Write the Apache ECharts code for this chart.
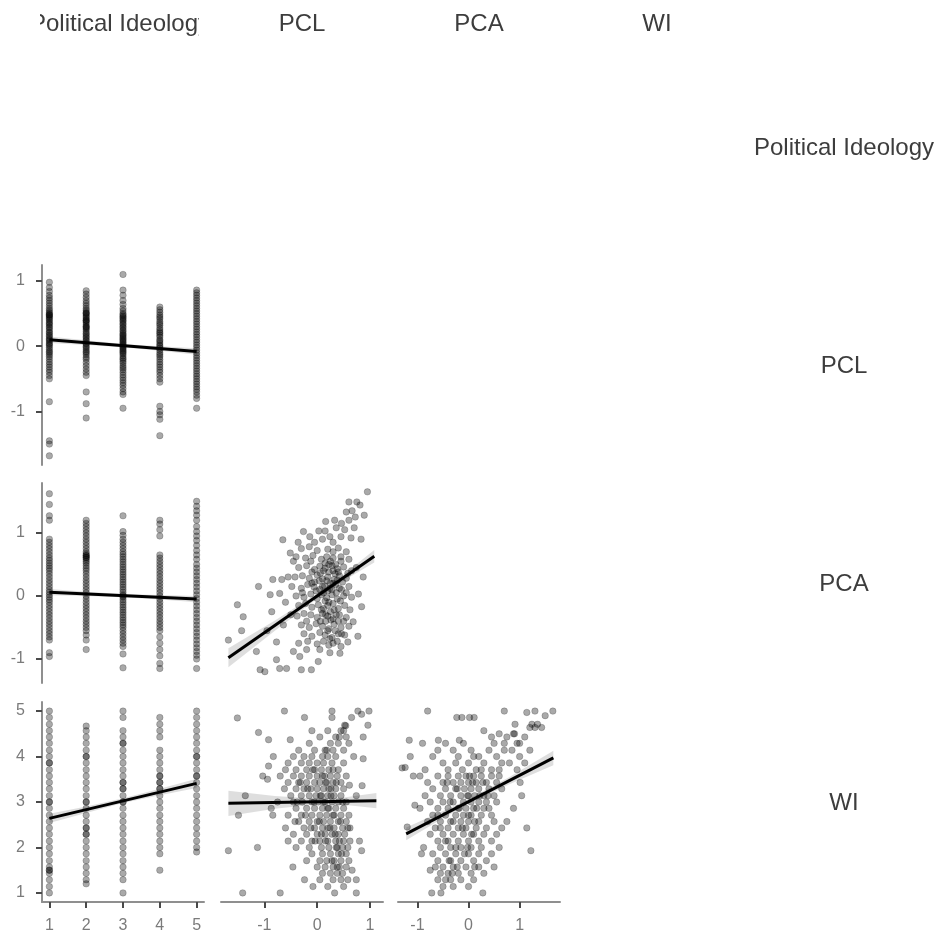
<!DOCTYPE html>
<html>
<head>
<meta charset="utf-8">
<script src="https://cdn.jsdelivr.net/npm/echarts@6/dist/echarts.min.js"></script>
<style>
html,body{margin:0;padding:0;background:#fff;}
#chart{width:941px;height:943px;}
</style>
</head>
<body>
<div id="chart"></div>
<script>
// ---------- labels ----------
const variableNames = ['Political Ideology', 'PCL', 'PCA', 'WI'];
const ideologyLevels = [1, 2, 3, 4, 5];
const ideologyTicks = [1, 2, 3, 4, 5];
const pclTicks = [-1, 0, 1];
const pcaTicks = [-1, 0, 1];
const wiTicks = [1, 2, 3, 4, 5];

// axis ranges (data units)
const ideologyRange = [0.8, 5.2];
const pclRange = [-1.82, 1.245];
const pcaRange = [-1.38, 1.79];
const wiRange = [0.8, 5.2];

// ---------- PCL by political ideology level (1..5) ----------
const pclByIdeology = [
  [0.98,0.9,0.84,0.78,0.74,0.7,0.66,0.62,0.58,0.55,0.52,0.5,0.48,0.48,0.46,0.44,0.42,0.4,0.37,0.35,0.33,0.3,0.28,0.25,0.22,0.2,0.17,0.15,0.12,0.1,0.08,0.05,0.03,0.01,-0.02,-0.05,-0.08,-0.1,-0.13,-0.16,-0.2,-0.24,-0.28,-0.32,-0.36,-0.4,-0.45,-0.5,-0.85,-1.45,-1.5,-1.68],
  [0.85,0.8,0.75,0.7,0.66,0.62,0.58,0.55,0.52,0.5,0.5,0.47,0.45,0.43,0.4,0.4,0.38,0.36,0.33,0.3,0.3,0.28,0.26,0.23,0.2,0.18,0.15,0.13,0.1,0.08,0.05,0.03,0,-0.02,-0.05,-0.08,-0.1,-0.13,-0.17,-0.2,-0.25,-0.3,-0.35,-0.4,-0.45,-0.7,-0.88,-1.1],
  [1.1,0.86,0.78,0.7,0.64,0.58,0.54,0.5,0.48,0.46,0.44,0.42,0.4,0.38,0.35,0.33,0.3,0.28,0.25,0.23,0.2,0.18,0.16,0.14,0.12,0.1,0.08,0.06,0.04,0.02,0,-0.02,-0.04,-0.06,-0.08,-0.1,-0.12,-0.15,-0.18,-0.2,-0.23,-0.26,-0.3,-0.33,-0.36,-0.4,-0.44,-0.48,-0.52,-0.56,-0.6,-0.65,-0.7,-0.74,-0.95],
  [0.6,0.56,0.52,0.48,0.45,0.42,0.38,0.35,0.32,0.28,0.25,0.22,0.2,0.17,0.14,0.1,0.08,0.05,0.02,0,-0.03,-0.06,-0.1,-0.13,-0.16,-0.2,-0.24,-0.28,-0.32,-0.36,-0.4,-0.45,-0.5,-0.55,-0.92,-1.0,-1.05,-1.12,-1.37],
  [0.86,0.82,0.78,0.74,0.7,0.66,0.62,0.58,0.54,0.5,0.46,0.42,0.38,0.34,0.3,0.26,0.22,0.18,0.14,0.1,0.06,0.02,-0.02,-0.06,-0.1,-0.14,-0.18,-0.22,-0.26,-0.3,-0.34,-0.38,-0.42,-0.46,-0.5,-0.54,-0.58,-0.62,-0.66,-0.7,-0.75,-0.8,-0.95]
];

// ---------- PCA by political ideology level ----------
const pcaByIdeology = [
  [1.62,1.45,1.27,1.2,0.9,0.85,0.8,0.75,0.7,0.65,0.6,0.56,0.52,0.48,0.44,0.4,0.35,0.3,0.25,0.2,0.15,0.1,0.06,0.02,-0.02,-0.06,-0.1,-0.15,-0.2,-0.25,-0.3,-0.35,-0.4,-0.45,-0.5,-0.55,-0.6,-0.65,-0.7,-0.9,-0.96],
  [1.2,1.15,1.1,1.05,1.0,0.95,0.9,0.85,0.8,0.75,0.7,0.67,0.64,0.64,0.61,0.61,0.58,0.55,0.52,0.48,0.44,0.4,0.35,0.3,0.25,0.2,0.15,0.1,0.05,0,-0.05,-0.1,-0.15,-0.2,-0.25,-0.3,-0.35,-0.4,-0.45,-0.5,-0.55,-0.62,-0.7,-0.85],
  [1.27,1.02,0.96,0.9,0.85,0.8,0.75,0.7,0.66,0.62,0.58,0.54,0.5,0.46,0.42,0.38,0.34,0.3,0.26,0.22,0.18,0.14,0.1,0.06,0.02,0,-0.02,-0.06,-0.1,-0.14,-0.18,-0.22,-0.26,-0.3,-0.34,-0.38,-0.42,-0.46,-0.5,-0.55,-0.6,-0.65,-0.7,-0.75,-0.8,-0.92,-1.14],
  [1.2,1.14,1.05,0.95,0.65,0.6,0.55,0.5,0.45,0.4,0.35,0.3,0.25,0.2,0.15,0.1,0.05,0,-0.05,-0.1,-0.15,-0.2,-0.25,-0.3,-0.35,-0.4,-0.45,-0.5,-0.55,-0.65,-0.75,-0.85,-0.95,-1.07,-1.15],
  [1.5,1.42,1.35,1.28,1.2,1.1,1.02,0.95,0.88,0.8,0.72,0.65,0.58,0.5,0.44,0.38,0.32,0.26,0.2,0.14,0.08,0.02,-0.04,-0.1,-0.16,-0.22,-0.28,-0.34,-0.4,-0.46,-0.52,-0.58,-0.64,-0.7,-0.76,-0.82,-0.88,-0.94,-1.0,-1.15]
];

// ---------- WI by political ideology level ----------
const wiByIdeology = [
  [5,4.86,4.71,4.57,4.43,4.29,4.14,4.0,3.86,3.86,3.71,3.57,3.43,3.29,3.14,3.0,3.0,2.86,2.71,2.57,2.43,2.29,2.14,2.0,1.86,1.71,1.57,1.5,1.5,1.43,1.29,1.14,1.0],
  [4.67,4.57,4.43,4.29,4.14,4.0,4.0,3.86,3.71,3.57,3.43,3.29,3.14,3.0,3.0,2.86,2.71,2.57,2.43,2.43,2.29,2.29,2.14,2.0,1.86,1.71,1.57,1.43,1.29,1.2],
  [5.0,4.86,4.57,4.43,4.29,4.29,4.14,4.0,3.86,3.71,3.57,3.43,3.43,3.29,3.29,3.14,3.0,3.0,2.86,2.71,2.57,2.43,2.29,2.14,2.0,1.86,1.71,1.57,1.43,1.29,1.0],
  [4.86,4.71,4.57,4.43,4.14,4.0,3.86,3.71,3.57,3.57,3.43,3.43,3.29,3.29,3.14,3.0,2.86,2.71,2.57,2.43,2.29,2.14,2.0,1.86,1.5],
  [5.0,4.86,4.71,4.57,4.43,4.29,4.14,4.0,4.0,3.86,3.71,3.57,3.57,3.43,3.29,3.14,3.0,2.86,2.71,2.57,2.43,2.29,2.14,2.0,1.9]
];

// ---------- PCA (y) vs PCL (x) ----------
const pcaVsPcl = [
  [0.95,1.65],[0.6,1.49],[0.75,1.49],[0.81,1.44],[0.66,1.35],[0.55,1.33],[0.89,1.28],[0.72,1.25],[0.6,1.2],[0.46,1.15],[0.33,1.2],[0.16,1.18],[0.36,1.08],[0.52,1.05],[0.7,1.08],[0.83,0.9],[0.64,0.92],[0.45,0.94],
  [0.03,1.03],[0.15,1.03],[-0.26,1.02],[-0.14,0.94],[-0.36,0.85],[-0.05,0.85],[0.24,0.94],[-0.65,0.89],[0.1,0.9],[0.3,0.85],
  [-0.51,0.68],[-0.84,0.26],[-0.67,0.26],[-1.11,0.15],[-0.89,0.02],[-0.71,0.04],[-1.51,-0.14],[-1.4,-0.33],[-1.43,-0.55],[-1.68,-0.7],[-1.15,-0.88],[-0.77,-0.73],[-0.64,-0.46],[-0.86,-0.25],[-0.55,0.3],[-0.45,0.55],[-0.6,-0.1],[-0.5,-0.3],[-0.95,-0.55],
  [-1.08,-1.17],[-0.99,-1.2],[-0.71,-1.15],[-0.58,-1.15],[-0.3,-1.17],[-0.11,-1.17],[0.02,-1.04],[-0.33,-0.96],[-0.45,-0.88],[-0.77,-1.01],[-0.2,-0.85],[0.05,-0.85],[0.24,-0.9],[0.43,-0.91],[0.3,-0.75],[0.58,-0.73],[0.77,-0.64],[0.68,-0.41],[0.84,-0.17],[0.78,0.03],[0.87,0.3],[0.74,0.45],
  [-0.3,0.75],[-0.15,0.78],[0.0,0.72],[0.2,0.74],[0.4,0.76],[0.55,0.7],
  [-0.4,0.62],[-0.22,0.6],[-0.08,0.64],[0.08,0.58],[0.18,0.62],[0.3,0.6],[0.45,0.62],[0.6,0.58],[-0.12,0.55],
  [-0.35,0.45],[-0.2,0.48],[-0.05,0.42],[0.05,0.47],[0.15,0.44],[0.28,0.48],[0.38,0.43],[0.5,0.46],[0.65,0.4],[-0.1,0.38],[0.22,0.38],
  [-0.42,0.3],[-0.28,0.32],[-0.15,0.28],[0.0,0.33],[0.1,0.27],[0.2,0.3],[0.32,0.26],[0.42,0.32],[0.55,0.28],[-0.05,0.22],[0.25,0.2],
  [-0.48,0.15],[-0.3,0.12],[-0.18,0.18],[-0.06,0.14],[0.05,0.1],[0.14,0.16],[0.24,0.12],[0.35,0.18],[0.46,0.1],[0.6,0.15],[0.12,0.05],
  [-0.4,0.0],[-0.25,-0.02],[-0.12,0.03],[0.0,-0.04],[0.08,0.02],[0.18,-0.03],[0.28,0.02],[0.38,-0.05],[0.5,0.0],[0.65,-0.02],[0.22,-0.1],
  [-0.35,-0.15],[-0.22,-0.12],[-0.1,-0.18],[0.02,-0.14],[0.12,-0.2],[0.2,-0.15],[0.3,-0.12],[0.4,-0.2],[0.52,-0.15],[0.62,-0.22],
  [-0.38,-0.32],[-0.25,-0.28],[-0.12,-0.3],[0.0,-0.34],[0.1,-0.28],[0.2,-0.32],[0.3,-0.36],[0.42,-0.3],[0.55,-0.34],[0.16,-0.4],
  [-0.3,-0.46],[-0.15,-0.5],[-0.02,-0.44],[0.1,-0.48],[0.22,-0.52],[0.32,-0.45],[0.45,-0.5],[0.6,-0.48],
  [-0.25,-0.6],[-0.1,-0.64],[0.05,-0.58],[0.15,-0.62],[0.28,-0.66],[0.4,-0.6],[0.52,-0.62],
  [-0.35,-0.75],[-0.18,-0.72],[0.0,-0.76],[0.12,-0.72],[0.22,-0.78],[0.45,-0.8],
  [0.15,0.52],[0.25,0.55],[0.35,0.5],[0.3,0.4],[0.4,0.38],[0.18,0.24],[0.28,0.1],[0.36,0.05],[0.44,-0.08],[0.32,-0.22],[0.25,-0.25],[0.4,-0.4],[0.08,-0.22],[0.34,0.35],[0.06,0.36],[-0.02,0.08],[0.48,0.22],[0.15,-0.08],
  [0.12,0.4],[0.22,0.5],[0.3,0.2],[0.38,0.25],[0.1,0.15],[0.2,0.08],[0.42,0.12],[0.16,-0.3],[0.26,-0.38],[0.36,-0.3],[0.06,-0.4],[0.2,-0.55],[0.34,-0.55],[0.46,-0.6],[0.5,-0.4],[0.55,0.05],[0.04,0.24],[-0.1,0.2],[0.3,0.7],[0.45,0.55],[0.58,0.36],[0.24,-0.68],[0.38,-0.72],[-0.2,-0.4],[-0.28,0.05]
];

// ---------- WI (y) vs PCL (x) ----------
const wiVsPcl = [
  [-1.51,4.85],[-0.62,5.0],[-0.24,4.86],[-1.11,4.53],[-0.92,4.37],[-0.51,4.37],[0.28,5.0],[0.28,4.86],[0.77,5.0],[0.98,5.0],[0.84,4.93],[0.65,4.86],[0.52,4.69],[0.54,4.68],[0.96,4.69],[0.87,4.43],[0.69,4.0],[0.87,3.95],[0.61,3.37],[0.85,3.36],[-0.83,4.0],[-0.92,3.79],[-1.03,3.57],[-0.94,3.5],[-1.36,3.14],[-1.49,2.71],[-0.87,2.86],[-0.84,2.71],[-1.68,1.93],[-1.13,2.0],[-1.41,1.0],[-0.7,1.0],[0.33,1.0],[0.74,1.0],[-0.08,1.14],[-0.24,1.29],[-0.46,1.57],[0.8,2.14],[0.84,1.93],[0.74,3.14],[0.74,1.29],[0.66,1.5],
  [-0.1,4.57],[0.05,4.43],[0.2,4.57],[0.35,4.43],[0.45,4.57],[0.55,4.43],[0.6,4.29],[0.4,4.29],[0.25,4.29],[-0.15,4.29],[-0.05,4.14],[0.15,4.14],[0.3,4.14],[0.5,4.14],[-0.35,4.14],[-0.45,4.0],[-0.25,4.0],[-0.1,4.0],[0.1,4.0],[0.2,4.0],[0.35,4.0],[0.5,3.86],[-0.55,3.86],[-0.3,3.86],[-0.15,3.86],[0.0,3.86],[0.12,3.86],[0.28,3.86],[0.4,3.71],[-0.6,3.71],[-0.4,3.71],[-0.2,3.71],[-0.05,3.71],[0.08,3.71],[0.22,3.71],[0.55,3.57],
  [-0.7,3.57],[-0.45,3.57],[-0.3,3.57],[-0.15,3.57],[0.0,3.57],[0.1,3.57],[0.25,3.57],[0.38,3.57],
  [-0.55,3.43],[-0.35,3.43],[-0.2,3.43],[-0.05,3.43],[0.05,3.43],[0.18,3.43],[0.3,3.43],[0.45,3.43],
  [-0.62,3.29],[-0.4,3.29],[-0.25,3.29],[-0.12,3.29],[0.0,3.29],[0.12,3.29],[0.22,3.29],[0.35,3.29],[0.5,3.29],
  [-0.5,3.14],[-0.3,3.14],[-0.15,3.14],[-0.02,3.14],[0.08,3.14],[0.2,3.14],[0.32,3.14],[0.45,3.14],
  [-0.75,3.0],[-0.45,3.0],[-0.28,3.0],[-0.1,3.0],[0.02,3.0],[0.15,3.0],[0.28,3.0],[0.4,3.0],[0.55,3.0],
  [-0.4,2.86],[-0.2,2.86],[-0.05,2.86],[0.1,2.86],[0.22,2.86],[0.35,2.86],[0.5,2.86],
  [-0.55,2.71],[-0.3,2.71],[-0.1,2.71],[0.05,2.71],[0.18,2.71],[0.3,2.71],[0.45,2.71],[0.6,2.71],
  [-0.35,2.57],[-0.15,2.57],[0.0,2.57],[0.12,2.57],[0.25,2.57],[0.4,2.57],[0.55,2.57],
  [-0.6,2.43],[-0.25,2.43],[-0.05,2.43],[0.1,2.43],[0.2,2.43],[0.32,2.43],[0.48,2.43],[0.62,2.43],
  [-0.45,2.29],[-0.2,2.29],[0.0,2.29],[0.15,2.29],[0.28,2.29],[0.4,2.29],[0.52,2.29],
  [-0.55,2.14],[-0.3,2.14],[-0.1,2.14],[0.05,2.14],[0.2,2.14],[0.35,2.14],[0.5,2.14],[0.62,2.14],
  [-0.4,2.0],[-0.15,2.0],[0.08,2.0],[0.22,2.0],[0.38,2.0],[0.48,2.0],[0.58,2.0],
  [-0.1,1.86],[0.1,1.86],[0.25,1.86],[0.4,1.86],[0.55,1.86],
  [-0.2,1.71],[0.05,1.71],[0.18,1.71],[0.32,1.71],[0.45,1.71],[0.6,1.71],
  [0.0,1.57],[0.15,1.57],[0.3,1.57],[0.42,1.57],[0.55,1.57],
  [0.1,1.43],[0.25,1.43],[0.38,1.43],[0.48,1.43],
  [0.05,1.29],[0.3,1.29],[0.45,1.29],[0.58,1.29],
  [0.2,1.14],[0.5,1.14],
  [-0.32,3.43],[-0.18,3.29],[0.06,3.14],[0.16,3.43],[0.26,3.29],[0.12,3.0],[-0.06,3.0],[0.2,2.86],[0.32,2.71],[-0.22,2.71],[0.04,2.57],[0.24,2.43],[0.34,2.29],[0.42,2.14],[-0.12,2.43],[0.14,3.57],[-0.08,3.71],[0.3,3.71],[0.18,4.14],[0.42,4.43],[0.5,4.57],[0.36,2.0],[0.46,1.86],[0.28,1.71],[0.38,1.57],[0.16,2.14],[0.08,2.29],[-0.04,2.14],[0.26,3.14],[0.36,3.43],[-0.38,3.0],[-0.42,2.57],[0.48,3.0],[0.58,2.43],[0.44,2.57]
];

// ---------- WI (y) vs PCA (x) ----------
const wiVsPca = [
  [-0.8,5.0],[-0.23,4.86],[-0.13,4.86],[0.02,4.86],[0.11,4.86],[0.7,5.0],[1.14,4.97],[1.3,5.0],[1.65,5.0],[1.5,4.9],[1.35,4.71],[1.24,4.71],[1.43,4.64],[1.3,4.64],[1.2,4.64],[0.91,4.71],[0.88,4.5],[-1.16,4.36],[-0.59,4.36],[-0.18,4.36],[-1.14,4.0],[-1.24,3.76],[-1.08,3.57],[-1.05,2.93],[-0.88,2.0],[-0.92,1.86],[-0.75,1.5],[-0.72,1.0],[-0.54,1.0],[0.28,1.0],[1.14,2.43],[1.22,1.93],[1.01,3.43],[1.04,3.14],[0.88,2.86],[0.75,2.57],[-1.3,3.75],[-1.2,2.45],
  [0.3,4.57],[0.45,4.43],[0.6,4.5],[0.75,4.43],[0.95,4.29],[1.1,4.43],[0.5,4.29],[0.7,4.14],[0.85,4.14],[1.0,4.0],[1.2,4.14],[0.4,4.14],[0.55,4.0],[0.65,3.86],[0.8,3.86],[0.95,3.71],[1.1,3.86],[0.3,3.86],[0.45,3.71],[0.2,4.0],[0.6,3.71],
  [-0.9,4.29],[-0.6,4.14],[-0.45,4.29],[-0.3,4.14],[-0.1,4.29],[0.05,4.14],[-0.7,4.0],[-0.5,3.86],[-0.2,4.0],[0.0,3.86],[0.1,4.0],[-0.85,3.71],[-0.4,3.71],[-0.25,3.86],[0.15,3.71],
  [-0.95,3.57],[-0.6,3.57],[-0.4,3.57],[-0.2,3.57],[-0.05,3.57],[0.1,3.57],[0.25,3.57],[0.45,3.57],[0.6,3.57],
  [-0.8,3.43],[-0.5,3.43],[-0.3,3.43],[-0.15,3.43],[0.0,3.43],[0.15,3.43],[0.35,3.43],[0.55,3.43],
  [-0.7,3.29],[-0.45,3.29],[-0.25,3.29],[-0.08,3.29],[0.05,3.29],[0.2,3.29],[0.4,3.29],[0.65,3.29],
  [-0.85,3.14],[-0.55,3.14],[-0.35,3.14],[-0.15,3.14],[0.0,3.14],[0.12,3.14],[0.3,3.14],[0.5,3.14],
  [-0.75,3.0],[-0.5,3.0],[-0.3,3.0],[-0.1,3.0],[0.05,3.0],[0.2,3.0],[0.35,3.0],[0.55,3.0],
  [-0.95,2.86],[-0.6,2.86],[-0.4,2.86],[-0.2,2.86],[-0.05,2.86],[0.1,2.86],[0.3,2.86],
  [-0.7,2.71],[-0.45,2.71],[-0.25,2.71],[-0.1,2.71],[0.05,2.71],[0.25,2.71],[0.45,2.71],
  [-0.8,2.57],[-0.55,2.57],[-0.35,2.57],[-0.15,2.57],[0.0,2.57],[0.2,2.57],[0.5,2.57],
  [-0.65,2.43],[-0.4,2.43],[-0.2,2.43],[-0.05,2.43],[0.15,2.43],[0.35,2.43],[0.65,2.43],
  [-0.75,2.29],[-0.5,2.29],[-0.3,2.29],[-0.1,2.29],[0.1,2.29],[0.3,2.29],[0.55,2.29],
  [-0.6,2.14],[-0.4,2.14],[-0.2,2.14],[0.0,2.14],[0.2,2.14],[0.45,2.14],
  [-0.55,2.0],[-0.35,2.0],[-0.15,2.0],[0.05,2.0],[0.25,2.0],[0.6,2.0],
  [-0.7,1.86],[-0.45,1.86],[-0.25,1.86],[0.0,1.86],[0.2,1.86],[0.45,1.86],
  [-0.6,1.71],[-0.35,1.71],[-0.15,1.71],[0.1,1.71],[0.35,1.71],
  [-0.65,1.57],[-0.5,1.57],[-0.3,1.57],[-0.05,1.57],[0.2,1.57],[0.5,1.57],
  [-0.55,1.43],[-0.4,1.43],[-0.2,1.43],[0.05,1.43],[0.3,1.43],
  [-0.6,1.29],[-0.35,1.29],[-0.15,1.29],[0.1,1.29],
  [-0.5,1.14],[-0.3,1.14],[0.0,1.14],
  [-0.42,3.43],[-0.22,3.29],[-0.02,3.14],[0.08,3.43],[-0.36,3.0],[-0.18,2.86],[0.0,2.71],[-0.3,2.57],[-0.12,2.43],[0.06,2.29],[-0.45,2.14],[-0.25,2.0],[-0.08,1.86],[-0.38,1.71],[-0.22,1.57],[0.22,3.14],[0.16,2.86],[0.38,3.14],[0.28,3.43],[-0.55,2.43],[-0.6,2.71],[0.12,2.57],[0.4,2.86],[0.02,3.57],[-0.12,3.71],[0.25,3.71],[0.7,4.29],[0.9,4.5],[1.0,4.29],[-0.02,2.0],[0.12,1.57],[-0.32,1.43],[-0.45,1.29]
];

// ---------- fitted lines (endpoints) ----------
const fitPclOnIdeology = [[1, 0.10], [5, -0.08]];
const fitPcaOnIdeology = [[1, 0.06], [5, -0.05]];
const fitWiOnIdeology  = [[1, 2.64], [5, 3.41]];
const fitPcaOnPcl      = [[-1.68, -0.98], [1.08, 0.63]];
const fitWiOnPcl       = [[-1.68, 2.97], [1.12, 3.03]];
const fitWiOnPca       = [[-1.22, 2.30], [1.66, 3.97]];

// ---------- confidence bands: [x, lower, upper] ----------
const bandPclOnIdeology = [[1,0.05,0.15],[2,0.02,0.09],[3,-0.015,0.035],[4,-0.07,0.0],[5,-0.13,-0.03]];
const bandPcaOnIdeology = [[1,0.01,0.11],[2,-0.003,0.068],[3,-0.02,0.03],[4,-0.058,0.013],[5,-0.1,0.0]];
const bandWiOnIdeology  = [[1,2.54,2.74],[2,2.76,2.90],[3,2.98,3.08],[4,3.15,3.29],[5,3.31,3.51]];
const bandPcaOnPcl      = [[-1.68,-1.13,-0.83],[-0.8,-0.55,-0.39],[0,-0.04,0.04],[0.5,0.24,0.34],[1.08,0.53,0.73]];
const bandWiOnPcl       = [[-1.68,2.69,3.25],[-0.8,2.85,3.13],[0,2.95,3.07],[0.5,2.94,3.10],[1.12,2.86,3.20]];
const bandWiOnPca       = [[-1.22,2.16,2.44],[-0.5,2.64,2.80],[0,2.96,3.06],[0.8,3.39,3.55],[1.66,3.81,4.13]];

// ---------- layout ----------
const colLeft = [42, 221, 398, 576];
const rowTop = [47, 265, 483, 702];
const panelW = 162, panelH = 200;
const FONT = 'Liberation Sans, Arial, sans-serif';

const pairsFromLevels = (levels, groups) =>
  groups.flatMap((vals, i) => vals.map(v => [levels[i], v]));

// panel definitions: [row, col, xRange, xTicks, yRange, yTicks, showX, showY, points, fit, band]
const panels = [
  [1, 0, ideologyRange, ideologyTicks, pclRange, pclTicks, false, true, pairsFromLevels(ideologyLevels, pclByIdeology), fitPclOnIdeology, bandPclOnIdeology],
  [2, 0, ideologyRange, ideologyTicks, pcaRange, pcaTicks, false, true, pairsFromLevels(ideologyLevels, pcaByIdeology), fitPcaOnIdeology, bandPcaOnIdeology],
  [3, 0, ideologyRange, ideologyTicks, wiRange, wiTicks, true, true, pairsFromLevels(ideologyLevels, wiByIdeology), fitWiOnIdeology, bandWiOnIdeology],
  [2, 1, pclRange, pclTicks, pcaRange, pcaTicks, false, false, pcaVsPcl, fitPcaOnPcl, bandPcaOnPcl],
  [3, 1, pclRange, pclTicks, wiRange, wiTicks, true, false, wiVsPcl, fitWiOnPcl, bandWiOnPcl],
  [3, 2, pcaRange, pcaTicks, wiRange, wiTicks, true, false, wiVsPca, fitWiOnPca, bandWiOnPca]
];

const grids = [], xAxes = [], yAxes = [], series = [];

function axisDef(gridIndex, range, ticks, show, isX) {
  return {
    type: 'value', gridIndex, min: range[0], max: range[1],
    axisLine: { show, onZero: false, lineStyle: { color: '#8f8f8f', width: 2 } },
    axisTick: { show, length: 6, customValues: ticks, lineStyle: { color: '#4a4a4a', width: 2 } },
    axisLabel: { show, customValues: ticks, color: '#7b7b7b', fontSize: 16, fontFamily: FONT, margin: isX ? 16 : 17 },
    splitLine: { show: false }
  };
}

panels.forEach((p, gi) => {
  const [row, col, xr, xt, yr, yt, showX, showY, pts, fit, band] = p;
  grids.push({ left: colLeft[col], top: rowTop[row], width: panelW, height: panelH, containLabel: false });
  xAxes.push(axisDef(gi, xr, xt, showX, true));
  yAxes.push(axisDef(gi, yr, yt, showY, false));
  series.push({
    type: 'scatter', xAxisIndex: gi, yAxisIndex: gi, data: pts,
    symbol: 'circle', symbolSize: 6.5, silent: true, z: 2,
    itemStyle: { color: 'rgba(0,0,0,0.42)', borderColor: 'rgba(0,0,0,0.3)', borderWidth: 0.8 }
  });
  series.push({
    type: 'custom', xAxisIndex: gi, yAxisIndex: gi, data: [band[0]], silent: true, z: 3,
    renderItem: (params, api) => {
      const top = band.map(b => api.coord([b[0], b[2]]));
      const bot = band.slice().reverse().map(b => api.coord([b[0], b[1]]));
      return { type: 'polygon', shape: { points: top.concat(bot) }, style: { fill: 'rgba(0,0,0,0.13)' } };
    }
  });
  series.push({
    type: 'line', xAxisIndex: gi, yAxisIndex: gi, data: fit, symbol: 'none', silent: true, z: 4,
    lineStyle: { color: '#000', width: 3 }
  });
});

// header and row labels
const graphics = [];
variableNames.forEach((name, i) => {
  graphics.push({
    type: 'text', z: 50, x: i === 0 ? 120 : colLeft[i] + panelW / 2, y: 24,
    style: { text: name, fill: '#3d3d3d', font: '24px ' + FONT, textAlign: 'center', textVerticalAlign: 'middle' }
  });
  graphics.push({
    type: 'text', z: 50, x: 844, y: rowTop[i] + panelH / 2 + 1,
    style: { text: name, fill: '#3d3d3d', font: '24px ' + FONT, textAlign: 'center', textVerticalAlign: 'middle' }
  });
});
// strip clipping of the first column header
graphics.push({ type: 'rect', z: 100, shape: { x: 0, y: 0, width: 40, height: 45 }, style: { fill: '#fff' } });
graphics.push({ type: 'rect', z: 100, shape: { x: 199, y: 0, width: 25, height: 45 }, style: { fill: '#fff' } });

const chart = echarts.init(document.getElementById('chart'), null, { renderer: 'canvas' });
chart.setOption({
  animation: false,
  backgroundColor: '#fff',
  grid: grids,
  xAxis: xAxes,
  yAxis: yAxes,
  series,
  graphic: graphics
});
</script>
</body>
</html>
